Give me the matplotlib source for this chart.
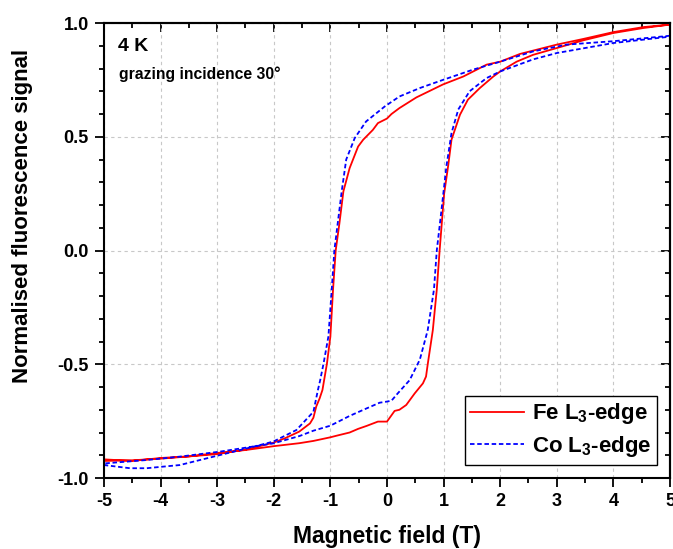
import numpy as np
import matplotlib
matplotlib.use('Agg')
import matplotlib.pyplot as plt
from matplotlib.ticker import MultipleLocator

plt.rcParams['font.family'] = ['Liberation Sans', 'DejaVu Sans']
plt.rcParams['font.weight'] = 'bold'
plt.rcParams['mathtext.fontset'] = 'custom'
plt.rcParams['mathtext.rm'] = 'Liberation Sans:bold'
plt.rcParams['mathtext.bf'] = 'Liberation Sans:bold'
plt.rcParams['mathtext.default'] = 'rm'
plt.rcParams['axes.unicode_minus'] = False

# Fe L3-edge, field sweep down (+5 -> -5) then up (-5 -> +5)
fe_down_x = [5.0, 4.53, 4.0, 3.47, 3.0, 2.35, 2.0, 1.76, 1.35, 0.99, 0.52, 0.22, 0.08, 0.0,
             -0.16, -0.25, -0.42, -0.51, -0.66, -0.77, -0.84, -0.906, -0.953, -1.0, -1.06,
             -1.14, -1.19, -1.25, -1.3, -1.36, -1.55, -1.8, -2.01, -2.5, -3.0, -3.5, -4.0,
             -4.5, -5.0]
fe_down_y = [0.993, 0.982, 0.96, 0.93, 0.905, 0.864, 0.83, 0.817, 0.765, 0.73, 0.673, 0.626,
             0.60, 0.58, 0.56, 0.53, 0.487, 0.457, 0.362, 0.26, 0.12, 0.0, -0.172, -0.378,
             -0.496, -0.613, -0.65, -0.686, -0.735, -0.76, -0.796, -0.825, -0.845, -0.875,
             -0.895, -0.905, -0.915, -0.922, -0.925]
fe_up_x = [-5.0, -4.5, -4.0, -3.5, -3.0, -2.5, -2.0, -1.55, -1.3, -1.0, -0.89, -0.66, -0.51,
           -0.36, -0.16, 0.0, 0.135, 0.22, 0.34, 0.49, 0.635, 0.69, 0.72, 0.81, 0.88, 0.93,
           1.01, 1.08, 1.14, 1.29, 1.43, 1.64, 1.88, 2.0, 2.29, 2.58, 3.0, 3.47, 4.0, 4.53, 5.0]
fe_up_y = [-0.918, -0.925, -0.912, -0.905, -0.89, -0.877, -0.86, -0.847, -0.837, -0.821,
           -0.814, -0.80, -0.784, -0.771, -0.752, -0.752, -0.705, -0.70, -0.679, -0.628,
           -0.584, -0.554, -0.50, -0.35, -0.172, 0.0, 0.25, 0.37, 0.487, 0.597, 0.663, 0.714,
           0.765, 0.787, 0.83, 0.86, 0.89, 0.924, 0.956, 0.978, 0.993]

# Co L3-edge
co_down_x = [5.0, 4.0, 3.17, 2.58, 2.0, 1.52, 0.99, 0.58, 0.22, -0.04, -0.37, -0.57, -0.72,
             -0.8, -0.87, -0.93, -0.976, -1.035, -1.12, -1.18, -1.22, -1.3, -1.6, -2.01,
             -2.48, -2.95, -3.66, -4.25, -4.54, -5.0]
co_down_y = [0.944, 0.92, 0.905, 0.875, 0.83, 0.795, 0.75, 0.714, 0.677, 0.633, 0.567, 0.494,
             0.40, 0.26, 0.12, 0.0, -0.172, -0.378, -0.496, -0.57, -0.613, -0.709, -0.789,
             -0.84, -0.87, -0.899, -0.943, -0.957, -0.957, -0.943]
co_up_x = [-5.0, -4.25, -3.66, -2.95, -2.01, -1.54, -1.3, -1.0, -0.66, -0.36, -0.13, 0.0, 0.08,
           0.19, 0.40, 0.58, 0.72, 0.83, 0.88, 0.95, 1.0, 1.05, 1.14, 1.26, 1.46, 1.76, 2.0,
           2.58, 3.0, 4.0, 5.0]
co_up_y = [-0.936, -0.921, -0.906, -0.884, -0.848, -0.815, -0.792, -0.77, -0.727, -0.694,
           -0.669, -0.664, -0.66, -0.628, -0.57, -0.48, -0.35, -0.172, 0.0, 0.15, 0.26, 0.37,
           0.516, 0.62, 0.70, 0.758, 0.787, 0.84, 0.868, 0.912, 0.94]

fig = plt.figure(figsize=(6.73, 5.49), dpi=100)
ax = fig.add_axes([0.1545, 0.1293, 0.8410, 0.8288])

ax.plot(fe_down_x + fe_up_x, fe_down_y + fe_up_y, color='#ff0000', lw=1.3,
        label='Fe L$_{3}$-edge')
ax.plot(co_down_x + co_up_x, co_down_y + co_up_y, color='#0000ff', lw=1.3,
        linestyle=(0, (2.5, 1.5)), label='Co L$_{3}$-edge')

ax.set_xlim(-5, 5)
ax.set_ylim(-1, 1)
ax.xaxis.set_major_locator(MultipleLocator(1))
ax.xaxis.set_minor_locator(MultipleLocator(0.5))
ax.yaxis.set_major_locator(MultipleLocator(0.5))
ax.yaxis.set_minor_locator(MultipleLocator(0.1))
ax.yaxis.set_major_formatter(matplotlib.ticker.FormatStrFormatter('%.1f'))
ax.grid(True, which='major', color='#c8c8c8', linestyle=(0, (3, 3)), lw=0.8)

ax.tick_params(which='both', direction='out', width=1.3, labelsize=13, pad=4.5)
ax.tick_params(which='major', length=6.3)
ax.tick_params(which='minor', length=3.5)
for s in ax.spines.values():
    s.set_linewidth(1.5)

top = ax.secondary_xaxis('top')
top.xaxis.set_major_locator(MultipleLocator(1))
top.xaxis.set_minor_locator(MultipleLocator(0.5))
top.tick_params(which='both', direction='in', width=1.3, labeltop=False)
top.tick_params(which='major', length=6.3)
top.tick_params(which='minor', length=3.5)
right = ax.secondary_yaxis('right')
right.yaxis.set_major_locator(MultipleLocator(0.5))
right.yaxis.set_minor_locator(MultipleLocator(0.1))
right.tick_params(which='both', direction='in', width=1.3, labelright=False)
right.tick_params(which='major', length=6.3)
right.tick_params(which='minor', length=3.5)
top.spines['top'].set_linewidth(1.5)
right.spines['right'].set_linewidth(1.5)

ax.set_xlabel('Magnetic field (T)', fontsize=16.5, fontweight='bold', labelpad=10.5)
ax.set_ylabel('Normalised fluorescence signal', fontsize=16, fontweight='bold')
ax.yaxis.set_label_coords(-0.125, 0.575)

ax.text(0.025, 0.967, '4 K', transform=ax.transAxes, fontsize=14, fontweight='bold',
        va='top', ha='left')
ax.text(0.027, 0.905, 'grazing incidence 30°', transform=ax.transAxes, fontsize=11.3,
        fontweight='bold', va='top', ha='left')

leg = ax.legend(loc='lower right', fontsize=16, frameon=True, fancybox=False,
                edgecolor='black', framealpha=1, handlelength=2.4, handletextpad=0.35,
                borderpad=0.25, labelspacing=0.35, borderaxespad=0.6)
leg.get_frame().set_linewidth(1.0)

fig.savefig('out.png', dpi=100)
